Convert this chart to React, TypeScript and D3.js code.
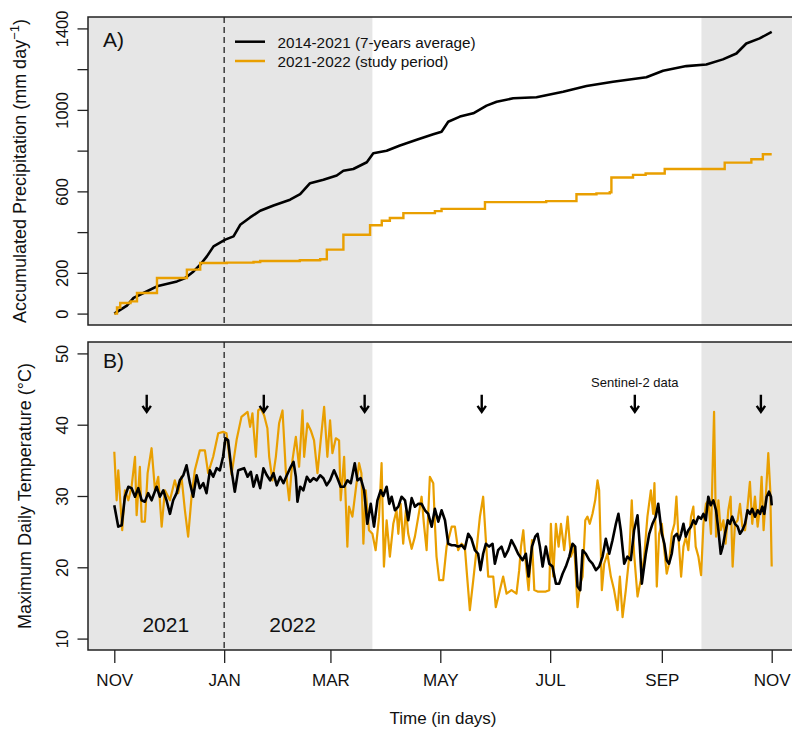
import React, { useEffect, useRef } from "react";
import * as d3 from "d3";

// all days are counted from 1 Nov 2021
const precipAvgDays = [0, 7, 10.7, 16.2, 23.7, 34.8, 39.4, 44, 47.7, 51.4, 55.1, 61.6, 66.2, 69.9, 75.4, 81, 88.4, 97.6, 103.2, 108.7, 116.1, 123.5, 127.2, 132.7, 140.2, 143.8, 151.2, 158.6, 167.9, 177.1, 181.7, 185.4, 191.9, 199.3, 206.7, 212.3, 221.5, 234.4, 249.2, 262.2, 276.9, 295.4, 304.7, 317.6, 328.7, 337.9, 345.4, 350.9, 358.3, 365];
const precipAvg = [0, 39, 77, 101, 134, 158, 175, 207, 240, 281, 330, 363, 379, 436, 472, 505, 531, 559, 586, 640, 657, 678, 701, 710, 743, 787, 799, 825, 853, 880, 893, 942, 967, 983, 1021, 1040, 1057, 1062, 1089, 1117, 1138, 1160, 1192, 1215, 1223, 1248, 1277, 1326, 1351, 1383];

const precipStudyDays = [0, 1.5, 3.3, 9, 12.6, 23.7, 40.3, 47.7, 62.5, 77.3, 81, 103, 114.3, 118, 127.2, 142, 148.5, 153, 160.5, 178, 181.7, 205.8, 239.8, 256.6, 267.7, 275.1, 276, 288, 295, 305.6, 338.9, 353.7, 360.1, 365];
const precipStudy = [0, 30, 52, 60, 101, 175, 216, 248, 250, 253, 258, 262, 267, 314, 387, 434, 456, 469, 493, 503, 514, 547, 552, 586, 590, 596, 668, 681, 688, 710, 741, 758, 782, 782];

const tempAvgDays = [0, 2.2, 4.1, 5.9, 7.8, 9.6, 11.5, 13.3, 15.2, 17, 18.8, 20.7, 23.5, 25.3, 27.2, 29, 30.9, 32.7, 34.6, 36.4, 38.3, 40.1, 42, 43.8, 45.7, 47.5, 49.4, 51.2, 53.1, 54.9, 56.8, 58.6, 60.4, 61.7, 63.2, 65.1, 66.9, 68.8, 72.1, 74, 75.8, 77.3, 79.1, 81, 82.8, 84.7, 86.5, 88.4, 90.2, 92.1, 93.9, 95.8, 98, 99.5, 100.8, 101.7, 103.2, 105, 106.9, 108.7, 110.6, 112.4, 114.3, 116.1, 117.9, 119.8, 122, 123.9, 125.7, 127.6, 129.4, 131.3, 133.5, 135, 136.8, 138.7, 140.5, 142.4, 144.2, 146.1, 147.9, 149.3, 151.2, 152.7, 154, 155.8, 157.7, 159.5, 161.4, 163.2, 165.1, 166.9, 168.8, 170.6, 172.5, 174.3, 176.2, 178, 179.9, 181.7, 183.6, 185.4, 187.3, 189.1, 190.9, 192.8, 194.6, 196.5, 198.3, 200.2, 202, 203.3, 204.8, 206.3, 208.1, 210, 211.3, 213.1, 215, 216.8, 218.7, 220.5, 222.4, 224.2, 226.7, 228.5, 230, 231.9, 233.7, 235, 236.3, 237.8, 239.6, 241.5, 243.3, 245.2, 247, 248.9, 250.7, 252.6, 254.4, 255.9, 257.2, 258.7, 260, 261.8, 263.7, 265.5, 267.4, 269.2, 271.1, 272.9, 274.8, 276.6, 278.5, 279.9, 281.2, 283.1, 284.9, 286.8, 288.6, 290.5, 291.8, 292.9, 295.1, 297, 298.8, 300.6, 302, 304, 305.4, 306.7, 308, 309.5, 310.8, 312.3, 313.6, 314.7, 316, 317.3, 318.7, 320.2, 321.5, 322.8, 324.3, 325.8, 327.1, 328.4, 329.8, 331.1, 332.6, 334.1, 335.4, 336.7, 337.8, 339.1, 340.6, 341.8, 343.1, 344.6, 346.1, 347.4, 348.7, 350.2, 351.6, 352.9, 354.2, 355.7, 357.2, 358.5, 359.8, 360.9, 362.2, 363.5, 364.6, 365];
const tempAvg = [28.7, 25.7, 25.9, 29.9, 31.3, 31.1, 29.9, 31.1, 29.4, 29.2, 30.4, 29.4, 31.3, 29.9, 30.8, 29.4, 27.5, 29.4, 30.4, 32.2, 32.9, 34.3, 31.8, 29.9, 32.9, 31.1, 31.8, 30.4, 33.6, 32.7, 33.9, 33.6, 35.5, 38.1, 37.8, 33.6, 30.6, 33.6, 33.9, 32.7, 33.4, 31.3, 32.9, 31.1, 33.9, 32.9, 32.2, 33.2, 31.5, 32.7, 31.8, 32.9, 34.1, 34.8, 32.7, 29.2, 31.3, 30.8, 32.7, 32.0, 32.5, 32.2, 32.9, 32.5, 31.5, 32.2, 33.6, 32.5, 31.3, 31.3, 32.2, 31.8, 34.6, 32.2, 32.5, 30.8, 26.1, 28.9, 25.7, 29.4, 30.8, 30.0, 31.3, 28.9, 29.9, 28.0, 28.5, 29.9, 29.4, 26.6, 29.7, 28.5, 28.9, 28.9, 28.0, 27.5, 25.7, 28.2, 26.4, 28.0, 26.6, 23.3, 23.1, 23.1, 22.9, 23.1, 22.6, 24.7, 24.0, 22.4, 21.9, 19.6, 21.9, 23.3, 22.9, 23.3, 20.5, 22.4, 22.9, 21.5, 22.4, 23.8, 22.9, 21.9, 21.0, 21.9, 18.7, 22.9, 24.3, 24.7, 22.9, 20.1, 22.9, 20.5, 20.1, 17.7, 17.7, 19.1, 20.1, 21.5, 23.3, 22.9, 17.3, 16.8, 22.4, 21.9, 21.0, 20.5, 19.6, 20.1, 21.5, 24.0, 21.9, 23.8, 26.1, 27.5, 25.2, 20.5, 21.5, 21.0, 25.2, 27.3, 22.9, 17.7, 21.9, 24.7, 26.1, 27.1, 28.9, 24.7, 23.3, 21.0, 20.5, 21.9, 24.3, 24.7, 23.8, 24.7, 26.1, 24.3, 25.2, 25.7, 26.6, 26.1, 27.1, 26.8, 27.5, 26.6, 29.9, 28.7, 29.4, 28.0, 25.2, 21.9, 22.9, 24.7, 26.6, 26.1, 27.1, 26.1, 25.7, 24.7, 25.2, 26.1, 28.0, 27.5, 28.2, 27.1, 28.0, 27.5, 28.5, 27.5, 29.9, 30.6, 29.9, 28.7];

const tempStudyDays = [0, 1.3, 2.2, 4.4, 5.9, 7.8, 9.6, 11.5, 12.4, 14.2, 15.2, 17, 18.5, 20.7, 22.6, 24.4, 26.3, 28.1, 30.9, 33.6, 35.5, 37.3, 39.2, 41, 42.9, 44.7, 47.5, 50.3, 52.1, 54.9, 57.7, 60.5, 62.3, 65.1, 68, 70.6, 74, 75.4, 76.7, 78.6, 79.9, 81.3, 83.2, 85, 86, 87.8, 89.7, 91.5, 93.4, 95.2, 97.1, 98.9, 100.8, 102.6, 104.5, 105.4, 107.2, 109.1, 110.9, 112.8, 114.6, 116.5, 118.3, 119.8, 121.1, 123, 124.8, 125.7, 127.6, 129.4, 130.3, 132.2, 134, 135.9, 137.2, 138.3, 139.6, 141.4, 143.3, 145.1, 147, 148.4, 149.7, 151.2, 153, 154.9, 156.7, 157.7, 159, 160.4, 161.9, 163.2, 165.1, 166.9, 168.8, 170.6, 171.9, 173.4, 175.2, 177.1, 178, 178.9, 180.4, 182.6, 184.5, 187.3, 189.1, 190.9, 192.8, 194.6, 195.9, 197.4, 199.3, 201.1, 203, 204.8, 206.3, 207.6, 210.4, 211.8, 214.1, 215.9, 217.8, 220.5, 223.3, 224.8, 225.8, 227.1, 228.5, 230, 231.9, 233.2, 235, 236.9, 239.6, 241.5, 242.4, 243.7, 245.2, 246.7, 248, 249.8, 251.7, 253.5, 255.4, 257.2, 258.7, 260, 261.5, 262.7, 264, 265.5, 267, 268.3, 269.2, 270.7, 272, 273.8, 275.7, 277.5, 279.4, 280.7, 282.2, 284, 285.9, 287.3, 288.6, 290.5, 292.3, 294.2, 296, 297.9, 299.2, 299.9, 301.2, 302.5, 304, 305.4, 306.7, 308, 309.5, 311, 312.1, 313.2, 314.7, 316, 317.4, 318.7, 320.2, 321.5, 322.8, 324.3, 325.8, 327.1, 328.5, 329.8, 331.3, 333, 334.1, 335.4, 336.7, 338.2, 339.4, 340.9, 342.2, 343.3, 344.6, 346.1, 347.4, 348.7, 350.2, 351.6, 352.9, 354.2, 355.7, 357.2, 358.5, 359.4, 360.5, 361.6, 363.1, 364.2, 365];
const tempStudy = [36.2, 29.4, 33.6, 25.2, 30.8, 29.4, 31.3, 35.5, 27.3, 34.1, 26.4, 26.4, 33.2, 36.7, 30.8, 32.7, 25.7, 30.8, 29.4, 32.2, 30.4, 32.7, 28.0, 24.3, 29.9, 33.6, 36.4, 36.4, 33.2, 35.5, 38.8, 39.0, 38.8, 33.0, 38.0, 41.1, 41.8, 39.7, 41.6, 35.5, 42.0, 42.3, 41.3, 39.5, 35.5, 32.2, 35.5, 40.2, 42.0, 33.6, 29.4, 35.0, 38.3, 34.1, 42.0, 35.5, 40.2, 39.2, 37.8, 33.2, 37.8, 42.5, 35.5, 40.6, 36.0, 38.1, 37.8, 29.4, 35.5, 22.9, 28.5, 27.1, 30.8, 34.6, 33.2, 23.3, 30.8, 25.2, 24.7, 22.4, 27.1, 34.6, 20.1, 26.6, 21.5, 26.1, 28.0, 24.7, 28.9, 23.3, 28.0, 24.7, 22.6, 24.3, 27.1, 29.9, 26.1, 22.4, 32.7, 31.8, 26.1, 21.5, 18.2, 18.2, 22.9, 25.7, 25.7, 22.4, 23.3, 22.9, 18.7, 14.0, 18.2, 22.4, 27.1, 29.9, 23.8, 18.7, 18.7, 14.4, 16.8, 18.7, 16.3, 16.8, 16.3, 19.6, 22.9, 25.2, 20.5, 16.8, 23.8, 16.8, 16.6, 16.6, 16.6, 16.8, 26.1, 18.7, 26.1, 22.9, 26.1, 22.4, 27.1, 21.5, 22.9, 14.4, 17.7, 18.7, 26.6, 27.1, 26.1, 27.5, 29.4, 32.2, 30.8, 16.8, 20.5, 21.9, 18.7, 16.8, 14.0, 18.7, 13.0, 16.8, 21.5, 29.4, 21.9, 15.9, 18.2, 21.5, 27.1, 30.8, 27.5, 31.8, 17.3, 24.7, 26.1, 22.4, 19.1, 20.5, 24.7, 26.1, 29.9, 24.3, 18.7, 22.9, 24.3, 22.4, 27.1, 28.5, 22.9, 21.5, 18.9, 26.1, 28.9, 29.4, 24.7, 41.8, 24.3, 29.4, 25.2, 26.6, 23.3, 28.0, 29.9, 20.1, 26.1, 26.6, 28.9, 25.7, 25.2, 28.5, 32.0, 26.1, 29.9, 25.7, 28.5, 32.7, 25.2, 29.4, 36.0, 30.8, 20.1];

const monthLabels = ["NOV", "JAN", "MAR", "MAY", "JUL", "SEP", "NOV"];
const precipTicks = [0, 200, 400, 600, 800, 1000, 1200, 1400];
const precipLabelled = [0, 200, 600, 1000, 1400];
const tempTicks = [10, 20, 30, 40, 50];
const sentinelDays = [18, 83, 139, 204, 289, 359];
const rainyEnd = 143.3;
const rainyStart = 326;
const yearStart = 61;
const seriesNames = ["2014-2021 (7-years average)", "2021-2022 (study period)"];
const seriesColors = ["#000000", "#E99F00"];

const font = "'Liberation Sans', Arial, Helvetica, sans-serif";

const App = () => {
    const svgRef = useRef(null);

    useEffect(() => {
        const left = 88;
        const right = 798;
        const start = Date.UTC(2021, 10, 1);
        const day = (d) => new Date(start + d * 864e5);

        const x = d3.scaleUtc().domain([day(-14.6), day(379.6)]).range([left, right]);
        const yP = d3.scaleLinear().domain([-56, 1456]).range([325, 17]);
        const yT = d3.scaleLinear().domain([8.4, 51.6]).range([650, 342]);

        const svg = d3.select(svgRef.current);
        svg.selectAll("*").remove();
        svg.append("rect").attr("width", 792).attr("height", 729).attr("fill", "#fff");

        const panels = [
            { y: yP, top: 17, bottom: 325 },
            { y: yT, top: 342, bottom: 650 },
        ];

        // grey shading + dashed new year line
        panels.forEach((p) => {
            svg.append("rect")
                .attr("x", left).attr("y", p.top)
                .attr("width", x(day(rainyEnd)) - left).attr("height", p.bottom - p.top)
                .attr("fill", "#e6e6e6");
            svg.append("rect")
                .attr("x", x(day(rainyStart))).attr("y", p.top)
                .attr("width", right - x(day(rainyStart))).attr("height", p.bottom - p.top)
                .attr("fill", "#e6e6e6");
            svg.append("line")
                .attr("x1", x(day(yearStart))).attr("x2", x(day(yearStart)))
                .attr("y1", p.top).attr("y2", p.bottom)
                .attr("stroke", "#222").attr("stroke-width", 1.3)
                .attr("stroke-dasharray", "6,4");
        });

        const lineOf = (days, vals, y, curve) => d3.line()
            .x((_, i) => x(day(days[i])))
            .y((v) => y(v))
            .curve(curve)(vals);

        // Panel A lines
        svg.append("path")
            .attr("d", lineOf(precipAvgDays, precipAvg, yP, d3.curveLinear))
            .attr("fill", "none").attr("stroke", seriesColors[0])
            .attr("stroke-width", 2.6).attr("stroke-linejoin", "round");
        svg.append("path")
            .attr("d", lineOf(precipStudyDays, precipStudy, yP, d3.curveStepAfter))
            .attr("fill", "none").attr("stroke", seriesColors[1])
            .attr("stroke-width", 2.4);

        // Panel B lines
        svg.append("path")
            .attr("d", lineOf(tempStudyDays, tempStudy, yT, d3.curveLinear))
            .attr("fill", "none").attr("stroke", seriesColors[1])
            .attr("stroke-width", 2.2).attr("stroke-linejoin", "round");
        svg.append("path")
            .attr("d", lineOf(tempAvgDays, tempAvg, yT, d3.curveLinear))
            .attr("fill", "none").attr("stroke", seriesColors[0])
            .attr("stroke-width", 2.6).attr("stroke-linejoin", "round");

        // Sentinel-2 arrows
        const aTop = yT(44.2);
        const aTip = yT(41.8);
        sentinelDays.forEach((d) => {
            const cx = x(day(d));
            svg.append("path")
                .attr("d", `M${cx},${aTop}L${cx},${aTip}M${cx - 4.2},${aTip - 6}L${cx},${aTip}L${cx + 4.2},${aTip - 6}`)
                .attr("fill", "none").attr("stroke", "#000").attr("stroke-width", 2.4);
        });
        svg.append("text")
            .attr("x", x(day(289))).attr("y", yT(45.3))
            .attr("text-anchor", "middle").attr("font-size", 13)
            .attr("fill", "#111").text("Sentinel-2 data");

        // year labels
        [["2021", 28.6], ["2022", 99]].forEach(([t, d]) => {
            svg.append("text")
                .attr("x", x(day(d))).attr("y", yT(10.95))
                .attr("text-anchor", "middle").attr("font-size", 21)
                .attr("fill", "#111").text(t);
        });

        // boxes
        panels.forEach((p) => {
            svg.append("rect")
                .attr("x", left).attr("y", p.top)
                .attr("width", right - left).attr("height", p.bottom - p.top)
                .attr("fill", "none").attr("stroke", "#222").attr("stroke-width", 1.5);
        });

        // panel letters
        svg.append("text").attr("x", 103).attr("y", 46.7).attr("font-size", 21).attr("fill", "#111").text("A)");
        svg.append("text").attr("x", 103).attr("y", 368.3).attr("font-size", 21).attr("fill", "#111").text("B)");

        // legend
        seriesNames.forEach((name, i) => {
            const ly = [41.7, 61][i];
            svg.append("line")
                .attr("x1", 235).attr("x2", 265).attr("y1", ly).attr("y2", ly)
                .attr("stroke", seriesColors[i]).attr("stroke-width", 2.5);
            svg.append("text")
                .attr("x", 277.5).attr("y", ly + 5.8)
                .attr("font-size", 15.3).attr("fill", "#111").text(name);
        });

        // y axes
        const yAxis = (scale, ticks, labelled) => (g) => {
            g.call(d3.axisLeft(scale).tickValues(ticks).tickSize(10.5)
                .tickFormat((v) => (labelled.includes(v) ? String(v) : "")))
                .call((g) => g.select(".domain").remove())
                .call((g) => g.selectAll(".tick line").attr("stroke", "#222").attr("stroke-width", 1.3))
                .call((g) => g.selectAll(".tick text")
                    .attr("transform", "rotate(-90)")
                    .attr("x", 0).attr("y", -19.8).attr("dy", null)
                    .attr("text-anchor", "middle")
                    .attr("font-size", 16.5).attr("font-family", font).attr("fill", "#111"));
        };
        svg.append("g").attr("transform", `translate(${left},0)`).call(yAxis(yP, precipTicks, precipLabelled));
        svg.append("g").attr("transform", `translate(${left},0)`).call(yAxis(yT, tempTicks, tempTicks));

        // x axis
        const months = d3.utcMonth.every(2).range(day(0), day(366));
        svg.append("g")
            .attr("transform", "translate(0,650)")
            .call(d3.axisBottom(x).tickValues(months).tickSize(13)
                .tickFormat((_, i) => monthLabels[i]))
            .call((g) => g.select(".domain").remove())
            .call((g) => g.selectAll(".tick line").attr("stroke", "#222").attr("stroke-width", 1.3))
            .call((g) => g.selectAll(".tick text")
                .attr("y", 35.7).attr("dy", null)
                .attr("font-size", 17).attr("font-family", font).attr("fill", "#111"));

        // axis titles
        const tA = svg.append("text")
            .attr("transform", "translate(26,171) rotate(-90)")
            .attr("text-anchor", "middle").attr("font-size", 18).attr("fill", "#111");
        tA.append("tspan").text("Accumulated Precipitation (mm day");
        tA.append("tspan").attr("baseline-shift", "super").attr("font-size", 13).text("\u22121");
        tA.append("tspan").text(")");

        svg.append("text")
            .attr("transform", "translate(31,496) rotate(-90)")
            .attr("text-anchor", "middle").attr("font-size", 18).attr("fill", "#111")
            .text("Maximum Daily Temperature (\u00B0C)");

        svg.append("text")
            .attr("x", (left + right) / 2).attr("y", 724)
            .attr("text-anchor", "middle").attr("font-size", 17).attr("fill", "#111")
            .text("Time (in days)");
    }, []);

    return (
        <svg
            ref={svgRef}
            width={792}
            height={729}
            fontFamily={font}
            style={{ position: "absolute", left: 0, top: 0 }}
        />
    );
};

export default App;
